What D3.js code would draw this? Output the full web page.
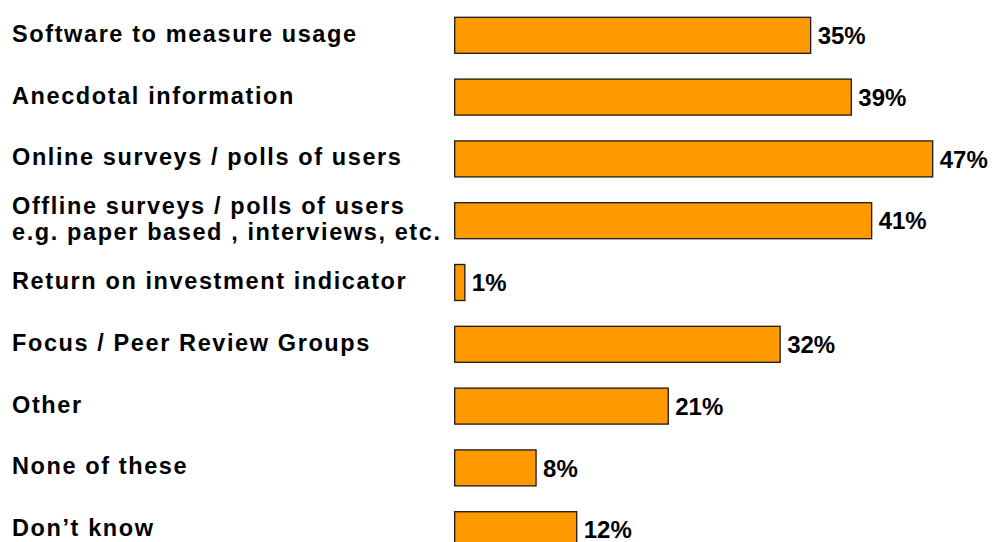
<!DOCTYPE html>
<html>
<head>
<meta charset="utf-8">
<script src="https://cdn.jsdelivr.net/npm/d3@7"></script>
<style>
  html, body { margin: 0; padding: 0; background: #fff; }
  svg { display: block; font-family: "Liberation Sans", Arial, sans-serif; }
</style>
</head>
<body>
<svg id="chart" width="992" height="542"></svg>
<script>
// Survey answers: how usage / value is measured (share of respondents, %)
const categories = [
  ["Software to measure usage"],
  ["Anecdotal information"],
  ["Online surveys / polls of users"],
  ["Offline surveys / polls of users", "e.g. paper based , interviews, etc."],
  ["Return on investment indicator"],
  ["Focus / Peer Review Groups"],
  ["Other"],
  ["None of these"],
  ["Don\u2019t know"]
];
const values = [35, 39, 47, 41, 1, 32, 21, 8, 12];

const svg = d3.select("#chart");

const ids = categories.map((c, i) => i);

const x = d3.scaleLinear().domain([0, 50]).range([454.7, 963.2]);
const y = d3.scaleBand().domain(ids).range([17.3, 547.7]).paddingInner(0.4175).paddingOuter(0);

// bars
svg.append("g").selectAll("rect")
  .data(ids)
  .join("rect")
  .attr("x", x(0))
  .attr("y", i => y(i))
  .attr("width", i => x(values[i]) - x(0))
  .attr("height", y.bandwidth())
  .attr("fill", "#FF9900")
  .attr("stroke", "#1a1a1a")
  .attr("stroke-width", 1.3);

// value labels
svg.append("g").selectAll("text")
  .data(ids)
  .join("text")
  .attr("x", i => x(values[i]) + 7)
  .attr("y", i => y(i) + y.bandwidth() / 2)
  .attr("dy", "0.36em")
  .attr("font-size", 24)
  .attr("font-weight", "bold")
  .attr("fill", "#000")
  .text(i => values[i] + "%");

// category labels (left column)
const lineGap = 26;
const cat = svg.append("g").selectAll("text")
  .data(ids)
  .join("text")
  .attr("x", 12)
  .attr("y", i => y(i) + y.bandwidth() / 2 - (categories[i].length - 1) * lineGap / 2 - 2)
  .attr("font-size", 23.5)
  .attr("font-weight", "bold")
  .attr("letter-spacing", 1.6)
  .attr("fill", "#000");

cat.selectAll("tspan")
  .data(i => categories[i])
  .join("tspan")
  .attr("x", 12)
  .attr("dy", (d, j) => j === 0 ? "0.36em" : lineGap)
  .text(d => d);
</script>
</body>
</html>
